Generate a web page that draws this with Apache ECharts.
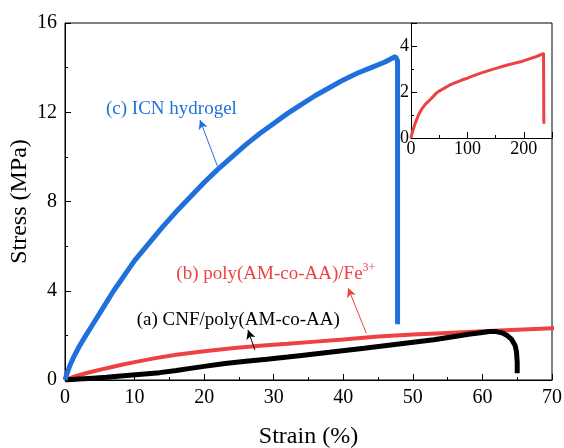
<!DOCTYPE html>
<html>
<head>
<meta charset="utf-8">
<script src="https://cdn.jsdelivr.net/npm/echarts@6/dist/echarts.min.js"></script>
<style>
html, body { margin: 0; padding: 0; background: #fff; }
#main { width: 564px; height: 448px; }
</style>
</head>
<body>
<div id="main"></div>
<script>
// strain (%), stress (MPa)
const cnfData = [[0, 0], [2, 0.04], [4, 0.08], [6, 0.12], [8, 0.18], [11, 0.26], [13.6, 0.33], [16, 0.43], [18, 0.52],
  [20, 0.61], [23, 0.74], [26, 0.84], [29, 0.93], [32, 1.03], [34, 1.1], [38, 1.24], [43, 1.42], [48, 1.61],
  [53, 1.8], [56, 1.95], [58, 2.05], [60, 2.13], [61, 2.17], [62, 2.17], [62.8, 2.12], [63.5, 2.01], [64.2, 1.82],
  [64.7, 1.55], [64.9, 1.25], [65, 0.8], [65, 0.3]];
const fe3Data = [[0, 0], [1, 0.12], [2, 0.22], [3, 0.3], [4, 0.38], [6, 0.53], [8, 0.67], [10, 0.8], [13, 0.98],
  [16, 1.13], [20, 1.29], [24, 1.42], [28, 1.53], [32, 1.62], [36, 1.72], [40, 1.82], [45, 1.95], [50, 2.04],
  [55, 2.11], [60, 2.18], [65, 2.25], [70, 2.32], [80, 2.42], [90, 2.52], [100, 2.6], [110, 2.7], [125, 2.83],
  [139, 2.94], [155, 3.06], [168, 3.15], [185, 3.26], [198, 3.34], [210, 3.44], [220, 3.52], [230, 3.62],
  [235, 3.68], [235.5, 0.62]];
const icnData = [[0, 0], [0.3, 0.3], [0.7, 0.65], [1.2, 1.0], [2, 1.48], [3, 2.0], [4, 2.5], [5, 3.0], [6, 3.5], [7, 4.0],
  [8, 4.45], [9, 4.9], [10, 5.35], [12, 6.1], [14, 6.85], [16, 7.55], [18, 8.2], [20, 8.85], [22, 9.45],
  [24, 10.0], [26, 10.55], [28, 11.05], [30, 11.5], [32, 11.95], [34, 12.35], [36, 12.75], [38, 13.1],
  [40, 13.45], [42, 13.75], [44, 14.0], [46, 14.25], [47.5, 14.5], [47.8, 14.3], [47.8, 2.5]];

const colors = { cnf: '#000000', fe3: '#ee4242', icn: '#2070dc' };
// annotation: text anchor and arrow [tail on curve, head near text], data coordinates
const labelCNF = { text: '(a) CNF/poly(AM-co-AA)', at: [10.3, 2.69], align: 'left', arrow: [[27.3, 1.34], [26.3, 2.24]] };
const labelFe3 = { text: '(b) poly(AM-co-AA)/Fe{sup|3+}', at: [16.0, 4.75], align: 'left', arrow: [[43.3, 2.1], [40.7, 4.12]] };
const labelICN = { text: '(c) ICN hydrogel', at: [15.3, 12.15], align: 'center', arrow: [[21.9, 9.59], [19.4, 11.65]] };

const font = 'Liberation Serif';
const chart = echarts.init(document.getElementById('main'));

function axisStyle(extra) {
  return Object.assign({
    type: 'value',
    axisLine: { show: true, lineStyle: { color: '#000', width: 1 } },
    axisTick: { show: true, inside: true, length: 6, lineStyle: { color: '#000' } },
    minorTick: { show: true, splitNumber: 2, length: 3, lineStyle: { color: '#000' } },
    splitLine: { show: false },
    nameMoveOverlap: false,
    axisLabel: { color: '#000', fontFamily: font, fontSize: 20 },
    nameTextStyle: { color: '#000', fontFamily: font, fontSize: 24 }
  }, extra);
}

function annot(lab, color) {
  return {
    markPoint: {
      silent: true,
      symbol: 'circle',
      symbolSize: 0,
      data: [{ coord: lab.at }],
      label: {
        show: true, position: 'inside', formatter: lab.text, lineHeight: 24,
        align: lab.align, color: color, fontFamily: font, fontSize: 19,
        rich: { sup: { fontSize: 12, verticalAlign: 'top', color: color, fontFamily: font } }
      }
    },
    markLine: {
      silent: true,
      symbol: ['none', 'arrow'],
      symbolSize: [7, 9],
      label: { show: false },
      lineStyle: { color: color, width: 1, type: 'solid' },
      data: [[{ coord: lab.arrow[0] }, { coord: lab.arrow[1] }]]
    }
  };
}

chart.setOption({
  animation: false,
  grid: [
    { left: 65, right: 12, top: 23, bottom: 68, show: true, borderColor: '#000', borderWidth: 1, outerBoundsMode: 'none' },
    { left: 411, right: 12, top: 23, height: 115, outerBoundsMode: 'none' }
  ],
  xAxis: [
    axisStyle({ gridIndex: 0, min: 0, max: 70, interval: 10, name: 'Strain (%)', nameLocation: 'middle', nameGap: 45 }),
    axisStyle({ gridIndex: 1, min: 0, max: 250, interval: 100,
      axisLabel: { color: '#000', fontFamily: font, fontSize: 18, margin: 2, showMaxLabel: false } })
  ],
  yAxis: [
    axisStyle({ gridIndex: 0, min: 0, max: 16, interval: 4, name: 'Stress (MPa)', nameLocation: 'middle', nameGap: 33 }),
    axisStyle({ gridIndex: 1, min: 0, max: 5, interval: 2,
      axisLabel: { color: '#000', fontFamily: font, fontSize: 18, margin: 2, showMaxLabel: false } })
  ],
  series: [
    Object.assign({ type: 'line', xAxisIndex: 0, yAxisIndex: 0, data: fe3Data, showSymbol: false,
      lineStyle: { color: colors.fe3, width: 4 }, itemStyle: { color: colors.fe3 } }, annot(labelFe3, colors.fe3)),
    Object.assign({ type: 'line', xAxisIndex: 0, yAxisIndex: 0, data: cnfData, showSymbol: false,
      lineStyle: { color: colors.cnf, width: 5 }, itemStyle: { color: colors.cnf } }, annot(labelCNF, colors.cnf)),
    Object.assign({ type: 'line', xAxisIndex: 0, yAxisIndex: 0, data: icnData, showSymbol: false,
      lineStyle: { color: colors.icn, width: 5 }, itemStyle: { color: colors.icn } }, annot(labelICN, colors.icn)),
    { type: 'line', xAxisIndex: 1, yAxisIndex: 1, data: fe3Data, showSymbol: false,
      lineStyle: { color: colors.fe3, width: 3 }, itemStyle: { color: colors.fe3 } }
  ]
});
</script>
</body>
</html>
